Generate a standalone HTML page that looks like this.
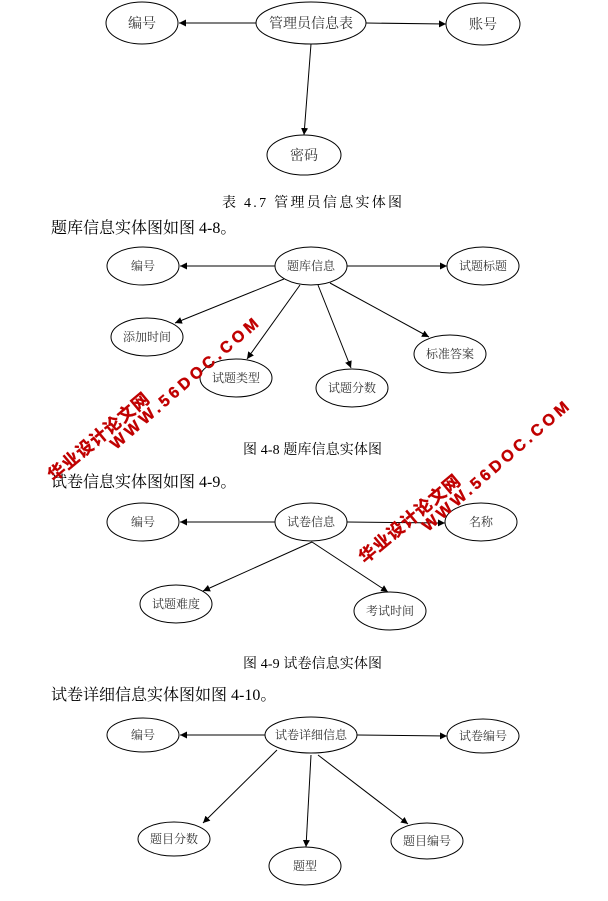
<!DOCTYPE html>
<html><head><meta charset="utf-8"><style>
html,body{margin:0;padding:0;background:#fff;}
svg{display:block;}
text{font-family:"Liberation Serif","Noto Serif CJK SC","Noto Sans CJK SC",serif;}
</style></head><body>
<svg width="608" height="901" viewBox="0 0 608 901" xmlns="http://www.w3.org/2000/svg">
<defs>
<marker id="a" viewBox="0 0 10 10" refX="10" refY="5" markerWidth="7" markerHeight="7" orient="auto" markerUnits="userSpaceOnUse"><path d="M0,0 L10,5 L0,10 z" fill="#000"/></marker>
</defs>
<g fill="none" stroke="#000" stroke-width="1">
<ellipse cx="142" cy="23" rx="36" ry="21"/>
<ellipse cx="311" cy="23" rx="55" ry="21"/>
<ellipse cx="483" cy="24" rx="37" ry="21"/>
<ellipse cx="304" cy="155" rx="37" ry="20"/>
<line x1="256" y1="23" x2="179" y2="23" marker-end="url(#a)"/>
<line x1="366" y1="23" x2="446" y2="24" marker-end="url(#a)"/>
<line x1="311" y1="44" x2="304" y2="135" marker-end="url(#a)"/>
<ellipse cx="143" cy="266" rx="36" ry="19"/>
<ellipse cx="311" cy="266" rx="36" ry="19"/>
<ellipse cx="483" cy="266" rx="36" ry="19"/>
<ellipse cx="147" cy="337" rx="36" ry="19"/>
<ellipse cx="236" cy="378" rx="36" ry="19"/>
<ellipse cx="352" cy="388" rx="36" ry="19"/>
<ellipse cx="450" cy="354" rx="36" ry="19"/>
<line x1="275" y1="266" x2="180" y2="266" marker-end="url(#a)"/>
<line x1="347" y1="266" x2="447" y2="266" marker-end="url(#a)"/>
<line x1="284" y1="279" x2="175" y2="323" marker-end="url(#a)"/>
<line x1="300" y1="285" x2="247" y2="359" marker-end="url(#a)"/>
<line x1="318" y1="285" x2="351" y2="368" marker-end="url(#a)"/>
<line x1="330" y1="283" x2="429" y2="337" marker-end="url(#a)"/>
<ellipse cx="143" cy="522" rx="36" ry="19"/>
<ellipse cx="311" cy="522" rx="36" ry="19"/>
<ellipse cx="481" cy="522" rx="36" ry="19"/>
<ellipse cx="176" cy="604" rx="36" ry="19"/>
<ellipse cx="390" cy="611" rx="36" ry="19"/>
<line x1="275" y1="522" x2="180" y2="522" marker-end="url(#a)"/>
<line x1="347" y1="522" x2="445" y2="523" marker-end="url(#a)"/>
<line x1="312" y1="542" x2="203" y2="591" marker-end="url(#a)"/>
<line x1="312" y1="542" x2="388" y2="592" marker-end="url(#a)"/>
<ellipse cx="143" cy="735" rx="36" ry="17"/>
<ellipse cx="311" cy="735" rx="46" ry="18"/>
<ellipse cx="483" cy="736" rx="36" ry="17"/>
<ellipse cx="174" cy="839" rx="36" ry="17"/>
<ellipse cx="305" cy="866" rx="36" ry="19"/>
<ellipse cx="427" cy="841" rx="36" ry="18"/>
<line x1="265" y1="735" x2="180" y2="735" marker-end="url(#a)"/>
<line x1="357" y1="735" x2="447" y2="736" marker-end="url(#a)"/>
<line x1="277" y1="750" x2="203" y2="823" marker-end="url(#a)"/>
<line x1="311" y1="755" x2="306" y2="847" marker-end="url(#a)"/>
<line x1="318" y1="755" x2="408" y2="824" marker-end="url(#a)"/>
</g>
<g font-size="14" fill="#333" text-anchor="middle">
<text x="142" y="28">编号</text>
<text x="311" y="28">管理员信息表</text>
<text x="483" y="29">账号</text>
<text x="304" y="160">密码</text>
</g>
<g font-size="12" fill="#333" text-anchor="middle">
<text x="143" y="270">编号</text>
<text x="311" y="270">题库信息</text>
<text x="483" y="270">试题标题</text>
<text x="147" y="341">添加时间</text>
<text x="236" y="382">试题类型</text>
<text x="352" y="392">试题分数</text>
<text x="450" y="358">标准答案</text>
<text x="143" y="526">编号</text>
<text x="311" y="526">试卷信息</text>
<text x="481" y="526">名称</text>
<text x="176" y="608">试题难度</text>
<text x="390" y="615">考试时间</text>
<text x="143" y="739">编号</text>
<text x="311" y="739">试卷详细信息</text>
<text x="483" y="740">试卷编号</text>
<text x="174" y="843">题目分数</text>
<text x="305" y="870">题型</text>
<text x="427" y="845">题目编号</text>
</g>
<g font-size="14" fill="#000">
<text x="222" y="207" textLength="180" lengthAdjust="spacing">表 4.7 管理员信息实体图</text>
<text x="243" y="454" textLength="139" lengthAdjust="spacing">图 4-8 题库信息实体图</text>
<text x="243" y="668" textLength="139" lengthAdjust="spacing">图 4-9 试卷信息实体图</text>
</g>
<g font-size="16" fill="#000">
<text x="51" y="233">题库信息实体图如图 4-8。</text>
<text x="51" y="487">试卷信息实体图如图 4-9。</text>
<text x="51" y="700">试卷详细信息实体图如图 4-10。</text>
</g>
<g font-weight="bold" fill="#c00000" stroke="#c00000" stroke-width="0.4">
<text transform="translate(116,450) rotate(-41)" font-size="16" textLength="190" lengthAdjust="spacing" style="font-family:'Liberation Sans',sans-serif">WWW.56DOC.COM</text>
<text transform="translate(54,482) rotate(-40)" font-size="17" textLength="126" lengthAdjust="spacing" style="font-family:'Noto Sans CJK SC',sans-serif">华业设计论文网</text>
<text transform="translate(428,532) rotate(-41)" font-size="16" textLength="188" lengthAdjust="spacing" style="font-family:'Liberation Sans',sans-serif">WWW.56DOC.COM</text>
<text transform="translate(365,564) rotate(-40)" font-size="17" textLength="126" lengthAdjust="spacing" style="font-family:'Noto Sans CJK SC',sans-serif">华业设计论文网</text>
</g>
</svg>
</body></html>
